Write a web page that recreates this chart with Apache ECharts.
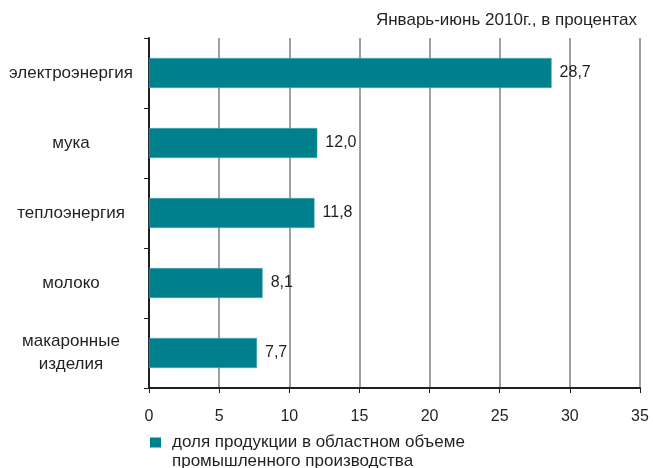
<!DOCTYPE html>
<html><head><meta charset="utf-8">
<script src="https://cdn.jsdelivr.net/npm/echarts@6/dist/echarts.min.js"></script>
<style>html,body{margin:0;padding:0;background:#fff}#c{width:653px;height:468px}</style>
</head><body><div id="c"></div>
<script>
var categories = ['электроэнергия', 'мука', 'теплоэнергия', 'молоко', 'макаронные\nизделия'];
var values = [28.7, 12.0, 11.8, 8.1, 7.7];
var xTicks = [0, 5, 10, 15, 20, 25, 30, 35];
var titleText = 'Январь-июнь 2010г., в процентах';
var seriesName = 'доля продукции в областном объеме\nпромышленного производства';

var chart = echarts.init(document.getElementById('c'));
chart.setOption({
  animation: false,
  textStyle: {fontFamily: 'Liberation Sans, Arial, sans-serif'},
  title: {text: titleText, right: 16, top: 12, padding: 0,
    textStyle: {fontSize: 17, fontWeight: 'normal', color: '#231f20'}},
  legend: {left: 150, top: 414, padding: 0, itemWidth: 11, itemHeight: 10, icon: 'rect',
    itemStyle: {borderWidth: 0},
    formatter: function(n){ return '\n' + n; },
    textStyle: {fontSize: 17, color: '#231f20', lineHeight: 19, padding: [0, 0, 0, 6]},
    data: [seriesName]},
  grid: {left: 149, right: 13, top: 38, bottom: 80},
  xAxis: {type: 'value', min: xTicks[0], max: xTicks[xTicks.length-1], interval: 5,
    axisLine: {show: true, lineStyle: {color: '#231f20', width: 2}},
    axisTick: {show: true, length: 5, lineStyle: {color: '#231f20'}},
    axisLabel: {fontSize: 16, color: '#231f20', margin: 21},
    splitLine: {show: true, lineStyle: {color: '#a0a0a0', width: 2}}},
  yAxis: {type: 'category', inverse: true, data: categories,
    axisLine: {show: true, lineStyle: {color: '#231f20', width: 2}},
    axisTick: {show: true, length: 5, lineStyle: {color: '#231f20'}},
    axisLabel: {fontSize: 17, color: '#231f20', align: 'center', margin: 78, lineHeight: 23}},
  series: [{name: seriesName, type: 'bar', data: values, barWidth: 30,
    itemStyle: {color: '#007f8c', borderColor: '#4fb0b8', borderWidth: 0.5},
    label: {show: true, position: 'right', distance: 8, fontSize: 16, color: '#231f20',
      formatter: function(p){ return p.value.toFixed(1).replace('.', ','); }}}]
});
</script></body></html>
